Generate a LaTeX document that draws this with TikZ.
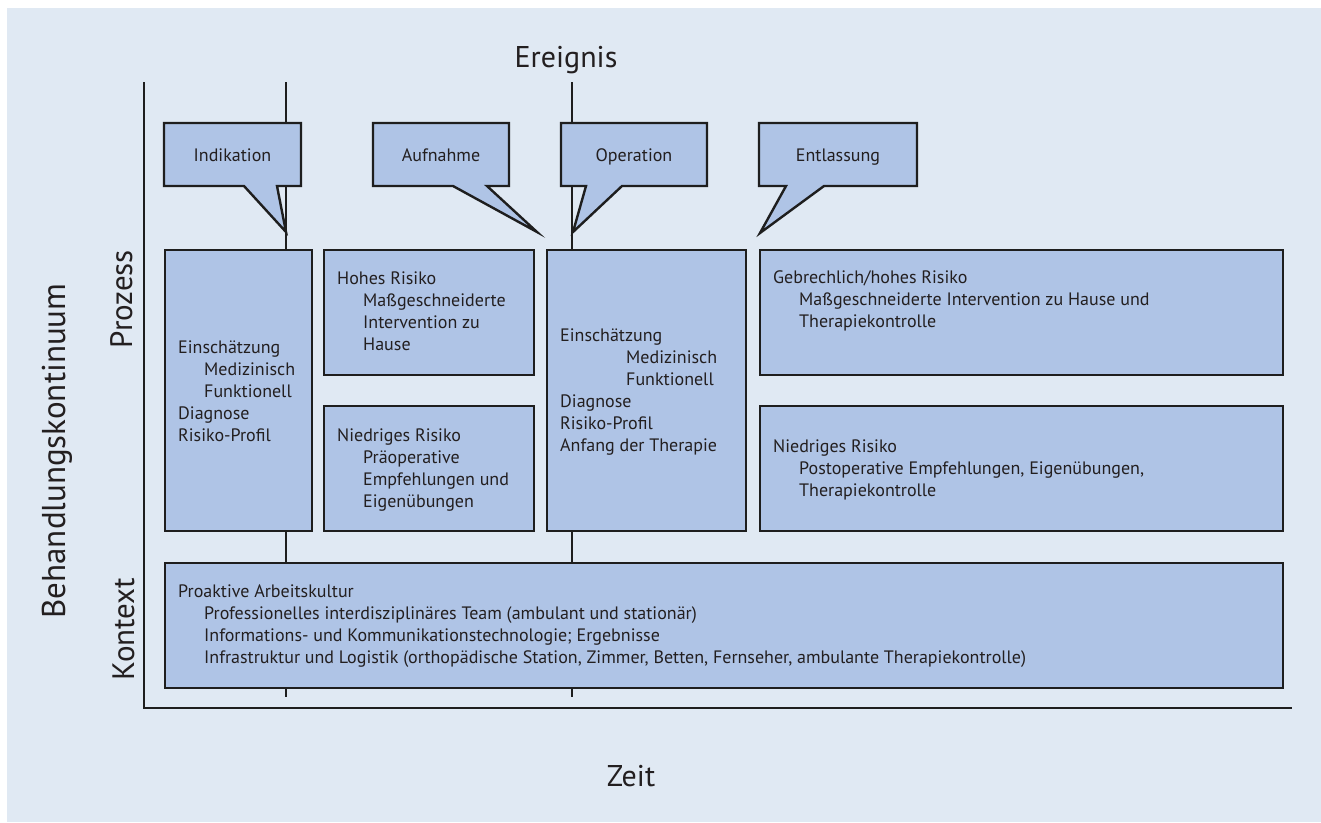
\documentclass[tikz,border=0pt]{standalone}
\usepackage{fontspec}
\setmainfont{PT Sans}
\definecolor{bg}{RGB}{224,233,243}
\definecolor{boxfill}{RGB}{175,196,230}
\definecolor{ink}{RGB}{30,30,30}
\definecolor{txt}{RGB}{35,31,32}
\begin{document}
\begin{tikzpicture}[x=1pt,y=-1pt,
  box/.style={draw=ink, fill=boxfill, line width=2.4pt, rectangle, inner sep=0pt, anchor=north west},
  callout/.style={draw=ink, fill=boxfill, line width=2.4pt, line join=miter, miter limit=20},
  axisline/.style={draw=ink, line width=2pt},
  bodytext/.style={anchor=north west, inner sep=0pt, align=left, text=txt, font=\fontsize{18}{22}\selectfont},
  calltext/.style={anchor=base, inner sep=0pt, text=txt, font=\fontsize{18}{22}\selectfont},
  bigtext/.style={inner sep=0pt, text=txt, font=\fontsize{30}{36}\selectfont}
]
\useasboundingbox (0,0) rectangle (1321,822);
\fill[white] (0,0) rectangle (1321,822);
\fill[bg] (7,8) rectangle (1321,822);

% axes
\coordinate (ytop) at (144,82);
\coordinate (origin) at (144,708);
\coordinate (xend) at (1292,708);
\draw[axisline] (ytop) -- (origin) -- (xend);

% event lines
\coordinate (e1top) at (286,82);
\coordinate (e1bot) at (286,697);
\coordinate (e2top) at (572,82);
\coordinate (e2bot) at (572,697);
\draw[axisline] (e1top) -- (e1bot);
\draw[axisline] (e2top) -- (e2bot);

% callouts
\draw[callout] (164,123) -- (301,123) -- (301,186) -- (277,186) -- (286,232) -- (244,186) -- (164,186) -- cycle;
\draw[callout] (373,123) -- (509,123) -- (509,186) -- (487,186) -- (537,232) -- (453,186) -- (373,186) -- cycle;
\draw[callout] (561,123) -- (707,123) -- (707,186) -- (622,186) -- (573,232) -- (586,186) -- (561,186) -- cycle;
\draw[callout] (759,123) -- (917,123) -- (917,186) -- (824,186) -- (760,233) -- (786,186) -- (759,186) -- cycle;
\node[calltext] (indikation) at (232.5,161) {Indikation};
\node[calltext] (aufnahme) at (441,161) {Aufnahme};
\node[calltext] (operation) at (634,161) {Operation};
\node[calltext] (entlassung) at (838,161) {Entlassung};

% process boxes
\node[box, minimum width=147pt, minimum height=281pt] (boxA) at (164,249) {};
\node[box, minimum width=210pt, minimum height=125pt] (boxB) at (323,249) {};
\node[box, minimum width=210pt, minimum height=125pt] (boxC) at (323,405) {};
\node[box, minimum width=199pt, minimum height=281pt] (boxD) at (546,249) {};
\node[box, minimum width=523pt, minimum height=125pt] (boxE) at (759,249) {};
\node[box, minimum width=523pt, minimum height=125pt] (boxF) at (759,405) {};
\node[box, minimum width=1118pt, minimum height=125pt] (ctx) at (164,562) {};

\node[bodytext] (tA) at (178,337.6) {\strut Einschätzung\\\hspace*{26pt}Medizinisch\\\hspace*{26pt}Funktionell\\Diagnose\\Risiko-Profil};
\node[bodytext] (tB) at (337,268.6) {\strut Hohes Risiko\\\hspace*{26pt}Maßgeschneiderte\\\hspace*{26pt}Intervention zu\\\hspace*{26pt}Hause};
\node[bodytext] (tC) at (337,425.6) {\strut Niedriges Risiko\\\hspace*{26pt}Präoperative\\\hspace*{26pt}Empfehlungen und\\\hspace*{26pt}Eigenübungen};
\node[bodytext] (tD) at (560,325.6) {\strut Einschätzung\\\hspace*{66pt}Medizinisch\\\hspace*{66pt}Funktionell\\Diagnose\\Risiko-Profil\\Anfang der Therapie};
\node[bodytext] (tE) at (773,267.6) {\strut Gebrechlich/hohes Risiko\\\hspace*{26pt}Maßgeschneiderte Intervention zu Hause und\\\hspace*{26pt}Therapiekontrolle};
\node[bodytext] (tF) at (773,436.6) {\strut Niedriges Risiko\\\hspace*{26pt}Postoperative Empfehlungen, Eigenübungen,\\\hspace*{26pt}Therapiekontrolle};
\node[bodytext] (tCtx) at (178,581.6) {\strut Proaktive Arbeitskultur\\\hspace*{26pt}Professionelles interdisziplinäres Team (ambulant und stationär)\\\hspace*{26pt}Informations- und Kommunikationstechnologie; Ergebnisse\\\hspace*{26pt}Infrastruktur und Logistik (orthopädische Station, Zimmer, Betten, Fernseher, ambulante Therapiekontrolle)};

% axis labels
\node[bigtext, anchor=base] (ereignis) at (566,67) {Ereignis};
\node[bigtext, anchor=base] (zeit) at (631,786) {Zeit};
\node[bigtext, font=\fontsize{33}{40}\selectfont, anchor=base, rotate=90] (kontinuum) at (65,451) {Behandlungskontinuum};
\node[bigtext, font=\fontsize{31}{38}\selectfont, anchor=base, rotate=90] (prozess) at (132,299) {Prozess};
\node[bigtext, font=\fontsize{31}{38}\selectfont, anchor=base, rotate=90] (kontext) at (134,629) {Kontext};
\end{tikzpicture}
\end{document}
